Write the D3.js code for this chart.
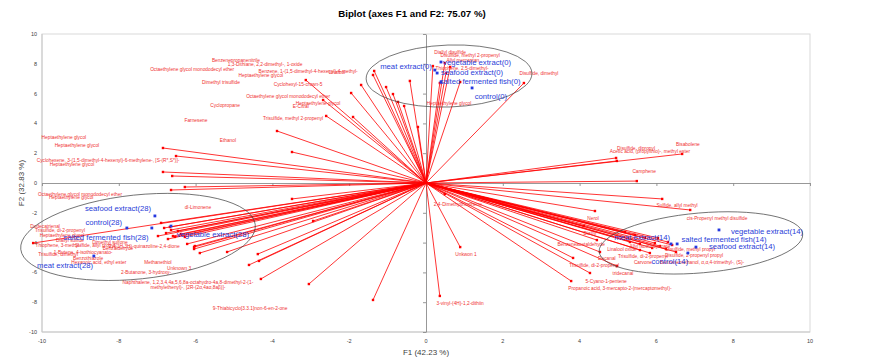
<!DOCTYPE html>
<html>
<head>
<meta charset="utf-8">
<script src="https://cdn.jsdelivr.net/npm/d3@7"></script>
<style>
  body { margin: 0; background: #fff; }
  svg { display: block; font-family: 'Liberation Sans', Arial, sans-serif; }
</style>
</head>
<body>
<script>
// chart texts
var titleText = 'Biplot (axes F1 and F2: 75.07 %)';
var xTitle = 'F1 (42.23 %)';
var yTitle = 'F2 (32.83 %)';
var ticks = [-10, -8, -6, -4, -2, 0, 2, 4, 6, 8, 10];

// variables (red vectors): name, F1, F2, label F1, label F2 (null = label hidden)
var variables = [
  ['Benzene, 1-(1,5-dimethyl-4-hexenyl)-4-methyl-', -3.13, 6.91, -3.07, 7.52],
  ['1,3-Dithiane, 2,2-dimethyl-, 1-oxide', -1.35, 7.52, -4.19, 7.99],
  ['Benzenepropanenitrile', -1.38, 7.25, -4.95, 8.26],
  ['Cyclohexyl-15-crown-5', -1.69, 6.58, -3.33, 6.64],
  ['Heptaethylene glycol', -1.95, 6.04, -4.30, 7.25],
  ['Octaethylene glycol monododecyl ether', -2.68, 5.57, -3.59, 5.84],
  ['Trisulfide, methyl 2-propenyl', -2.60, 4.50, -3.46, 4.36],
  ['Heptaethylene glycol', -1.90, 4.43, -2.81, 5.37],
  ['E-Citral', -0.86, 5.97, -3.26, 5.17],
  ['Farnesene', -3.88, 3.49, -5.99, 4.23],
  ['Ethanol', -3.49, 2.08, -5.16, 2.89],
  ['Linalool', -0.42, 6.85, -2.32, 7.45],
  ['Dimethyl trisulfide', -0.57, 5.17, -5.34, 6.78],
  ['Cyclopropane', -1.04, 6.44, -5.23, 5.23],
  ['Octaethylene glycol monododecyl ether', -0.73, 5.44, -6.09, 7.65],
  ['Heptaethylene glycol', -0.21, 3.76, 0.60, 5.37],
  ['Diallyl disulfide', 0.18, 7.85, 0.63, 8.79],
  ['Disulfide, methyl 2-propenyl', 0.49, 8.05, 1.15, 8.59],
  ['Allyl mercaptan', 0.63, 7.79, 0.96, 8.26],
  ['Thiophene, 2,5-dimethyl-', 0.52, 7.38, 0.94, 7.72],
  ['Diallyl sulfide', 0.36, 6.71, null, null],
  ['Methyl propyl disulfide', 0.89, 6.78, null, null],
  ['Disulfide, dimethyl', 2.55, 6.71, 2.94, 7.38],
  ['Disulfide, dipropyl', 4.95, 1.68, 5.47, 2.35],
  ['Acetic acid, (propylthio)-, methyl ester', 4.97, 1.48, 5.83, 2.15],
  ['Bisabolene', 6.67, 1.95, 6.82, 2.62],
  ['Camphene', 5.49, 0.13, 5.68, 0.81],
  ['Sulfide, allyl methyl', 6.15, -1.07, 6.54, -1.48],
  ['cis-Propenyl methyl disulfide', 6.88, -1.81, 7.58, -2.35],
  ['Nerol', 4.40, -1.88, 4.35, -2.35],
  ['Diallyl', 4.11, -2.89, 4.27, -3.36],
  ['Benzeneacetaldehyde', 4.45, -3.83, 4.04, -4.09],
  ['Decanal', 4.53, -4.63, 4.71, -5.03],
  ['Trisulfide, di-2-propenyl', 3.83, -5.03, 4.38, -5.50],
  ['tridecanal', 4.97, -5.57, 5.13, -6.04],
  ['5-Cyano-1-pentene', 4.27, -6.04, 4.69, -6.58],
  ['Propanoic acid, 3-mercapto-2-(mercaptomethyl)-', 3.78, -6.58, 5.05, -7.05],
  ['Allyl isothiocyanate', 5.70, -3.69, 5.83, -4.23],
  ['Disulfide, methyl propyl', 5.96, -4.03, 6.88, -4.43],
  ['Trisulfide, di-2-propenyl', 6.09, -4.23, 5.65, -4.90],
  ['Disulfide, 2-propenyl propyl', 6.25, -4.43, 6.98, -4.83],
  ['Benzenemethanol, \u03b1,\u03b1,4-trimethyl-, (S)-', 5.57, -4.50, 7.19, -5.30],
  ['Carvone', 5.83, -4.70, 5.65, -5.30],
  ['Linalool oxide', 5.31, -3.96, 5.10, -4.43],
  ['Diallyl trisulfide', 6.41, -4.16, null, null],
  ['Allyl methyl trisulfide', 6.51, -4.63, null, null],
  ['Dipropyl trisulfide', 6.04, -3.69, null, null],
  ['Methyl allyl sulfide', 6.30, -3.96, null, null],
  ['Hexanal', 5.44, -3.49, null, null],
  ['Nonanal', 5.89, -4.36, null, null],
  ['Octanal', 5.18, -3.29, null, null],
  ['Geraniol', 5.57, -4.09, null, null],
  ['2,4-Dimethylthiophene', 0.49, -0.74, 0.83, -1.41],
  ['Unkwon 1', 0.89, -4.30, 1.04, -4.77],
  ['3-vinyl-(4H)-1,2-dithiin', 0.36, -7.58, 0.89, -8.05],
  ['2-vinyl-(4H)-1,3-dithiin', -1.38, -7.85, null, null],
  ['9-Thiabicyclo[3.3.1]non-6-en-2-one', -3.05, -6.78, -4.58, -8.39],
  ['Pentanal', -3.49, -1.07, null, null],
  ['Heptanal', -2.94, -2.55, null, null],
  ['Heptaethylene glycol', -6.85, 2.35, -9.43, 3.09],
  ['Heptaethylene glycol', -6.51, 1.81, -9.09, 2.55],
  ['Cyclohexene, 3-(1,5-dimethyl-4-hexenyl)-6-methylene-, [S-(R*,S*)]-', -6.85, 0.74, -8.28, 1.54],
  ['Heptaethylene glycol', -6.61, 0.47, -9.22, 1.28],
  ['Octaethylene glycol monododecyl ether', -6.28, -0.27, -9.01, -0.74],
  ['Heptaethylene glycol', -6.64, -0.47, -9.24, -0.94],
  ['dl-Limonene', -6.90, -2.68, -5.94, -1.61],
  ['Naphthalene, 1,2,3,4,4a,5,6,8a-octahydro-4a,8-dimethyl-2-(1-\nmethylethenyl)-, [2R-(2\u03b1,4a\u03b1,8a\u03b2)]-', -4.30, -6.44, -6.20, -6.64],
  ['Unknown 3', -4.61, -5.50, -6.43, -5.70],
  ['2-Butanone, 3-hydroxy-', -4.35, -5.23, -7.29, -5.97],
  ['Methanethiol', -4.38, -4.77, -6.98, -5.30],
  ['2,4(1H,3H)-quinazoline-2,4-dione', -5.18, -4.63, -7.34, -4.23],
  ['Benzothiazole', -5.89, -4.70, -8.80, -5.03],
  ['1-Butene, 4-isothiocyanato-', -6.04, -4.30, -8.93, -4.63],
  ['Trisulfide, dimethyl', -6.22, -4.09, -9.58, -4.77],
  ['Hexanoic acid, ethyl ester', -6.59, -3.56, -8.52, -5.30],
  ['Dodecatrienal', -10.23, -4.03, -9.92, -2.89],
  ['Trisulfide, di-2-propenyl', -6.67, -2.95, -9.53, -3.15],
  ['Heptaethylene glycol', -6.64, -3.15, -9.48, -3.49],
  ['Diallyl sulfide', -6.54, -3.62, -9.27, -3.83],
  ['Thiophene, 3-methyl-', -6.28, -3.62, -9.58, -4.16],
  ['Sulfide, allyl propyl', -6.72, -3.76, -8.62, -4.16],
  ['Dimethyl sulfone', -6.02, -4.23, -8.23, -3.96],
  ['Benzaldehyde', -6.04, -4.43, -8.02, -4.36],
  ['Butanal', -6.77, -3.36, null, null],
  ['Methional', -6.46, -3.22, null, null],
  ['Propanal', -6.38, -3.42, null, null],
  ['Acetone', -6.82, -3.02, null, null],
  ['Furfural', -6.98, -3.56, null, null]
];

// observations (blue points): name, F1, F2, label F1, label F2
var observations = [
  ['meat extract(0)', 0.23, 7.58, -0.52, 7.85],
  ['vegetable extract(0)', 0.39, 8.12, 1.33, 8.12],
  ['seafood extract(0)', 0.29, 7.38, 1.20, 7.45],
  ['salted fermented fish(0)', 0.39, 6.78, 1.41, 6.85],
  ['control(0)', 1.20, 6.38, 1.69, 5.84],
  ['seafood extract(28)', -7.06, -2.21, -8.02, -1.68],
  ['control(28)', -7.79, -3.02, -8.39, -2.62],
  ['salted fermented fish(28)', -7.14, -3.02, -8.33, -3.62],
  ['vegetable extract(28)', -6.64, -2.89, -5.55, -3.42],
  ['meat extract(28)', -8.65, -4.90, -9.40, -5.50],
  ['vegetable extract(14)', 7.63, -3.15, 8.88, -3.22],
  ['salted fermented fish(14)', 6.54, -4.09, 7.76, -3.76],
  ['seafood extract(14)', 7.03, -4.30, 8.23, -4.23],
  ['meat extract(14)', 6.38, -4.09, 5.63, -3.62],
  ['control(14)', 6.82, -4.70, 6.35, -5.23]
];

// group ellipses: centre F1, centre F2, half width (F1 units), half height (F2 units), tilt in degrees
var ellipses = [
  [0.60, 7.18, 2.16, 2.08, -2],
  [-7.50, -3.62, 3.07, 2.82, -6],
  [7.16, -4.02, 2.66, 2.01, -5]
];

function draw() {
  var W = 871, H = 361;
  var pl = 42, pr = 810, pt = 34, pb = 332;

  var svg = d3.select('body').append('svg').attr('width', W).attr('height', H);

  var x = d3.scaleLinear().domain([-10, 10]).range([pl, pr]);
  var y = d3.scaleLinear().domain([-10, 10]).range([pb, pt]);

  // frame
  svg.append('rect').attr('x', pl).attr('y', pt).attr('width', pr - pl).attr('height', pb - pt)
    .attr('fill', 'none').attr('stroke', '#d9d9d9').attr('stroke-width', 1);
  svg.append('path').attr('d', 'M' + pl + ',' + pt + 'V' + pb + 'H' + pr)
    .attr('fill', 'none').attr('stroke', '#c8c8c8').attr('stroke-width', 1);

  // zero axes with ticks
  var yAxis = svg.append('g').attr('transform', 'translate(' + x(0) + ',0)')
    .call(d3.axisLeft(y).tickValues(ticks).tickSize(3).tickSizeOuter(0).tickFormat(''));
  var xAxis = svg.append('g').attr('transform', 'translate(0,' + y(0) + ')')
    .call(d3.axisBottom(x).tickValues(ticks).tickSize(3).tickSizeOuter(0).tickFormat(''));
  [xAxis, yAxis].forEach(function (g) {
    g.selectAll('path, line').attr('stroke', '#8c8c8c').attr('stroke-width', 0.9);
  });

  // tick labels on frame
  svg.append('g').selectAll('text').data(ticks).enter().append('text')
    .attr('x', 37).attr('y', d => y(d)).attr('dy', '0.35em').attr('text-anchor', 'end')
    .attr('font-size', 5.5).attr('fill', '#404040').text(d => d);
  svg.append('g').selectAll('text').data(ticks).enter().append('text')
    .attr('x', d => x(d)).attr('y', 343).attr('text-anchor', 'middle')
    .attr('font-size', 5.5).attr('fill', '#404040').text(d => d);

  // vectors
  var vg = svg.append('g');
  vg.selectAll('line').data(variables).enter().append('line')
    .attr('x1', x(0)).attr('y1', y(0))
    .attr('x2', d => x(d[1])).attr('y2', d => y(d[2]))
    .attr('stroke', '#ff0000').attr('stroke-width', 0.8);
  vg.selectAll('rect').data(variables).enter().append('rect')
    .attr('x', d => x(d[1]) - 1.2).attr('y', d => y(d[2]) - 1.2)
    .attr('width', 2.4).attr('height', 2.4).attr('fill', '#ff0000');

  var vl = svg.append('g').attr('font-size', 4.8).attr('fill', '#f03030').attr('text-anchor', 'middle');
  vl.selectAll('text').data(variables.filter(d => d[3] !== null)).enter().append('text')
    .attr('x', d => x(d[3])).attr('y', d => y(d[4]))
    .each(function (d) {
      var t = d3.select(this);
      d[0].split('\n').forEach(function (p, i) {
        t.append('tspan').attr('x', x(d[3])).attr('dy', i === 0 ? '0.35em' : '1.2em').text(p);
      });
    });

  // group ellipses
  svg.append('g').selectAll('ellipse').data(ellipses).enter().append('ellipse')
    .attr('cx', 0).attr('cy', 0)
    .attr('rx', d => x(d[2]) - x(0)).attr('ry', d => y(0) - y(d[3]))
    .attr('transform', d => 'translate(' + x(d[0]) + ',' + y(d[1]) + ') rotate(' + d[4] + ')')
    .attr('fill', 'none').attr('stroke', '#404040').attr('stroke-width', 0.7);

  // observations
  var og = svg.append('g');
  og.selectAll('rect').data(observations).enter().append('rect')
    .attr('x', d => x(d[1]) - 1.4).attr('y', d => y(d[2]) - 1.4)
    .attr('width', 2.8).attr('height', 2.8).attr('fill', '#2438e0');
  og.selectAll('text').data(observations).enter().append('text')
    .attr('x', d => x(d[3])).attr('y', d => y(d[4])).attr('dy', '0.35em')
    .attr('text-anchor', 'middle').attr('font-size', 7.7).attr('fill', '#2a40d8')
    .text(d => d[0]);

  // titles
  svg.append('text').attr('x', 412).attr('y', 17).attr('text-anchor', 'middle')
    .attr('font-size', 9.7).attr('font-weight', 'bold').attr('fill', '#000').text(titleText);
  svg.append('text').attr('x', x(0)).attr('y', 355).attr('text-anchor', 'middle')
    .attr('font-size', 8).attr('fill', '#404040').text(xTitle);
  svg.append('text').attr('transform', 'translate(24,' + y(0) + ') rotate(-90)').attr('text-anchor', 'middle')
    .attr('font-size', 8).attr('fill', '#404040').text(yTitle);
}

draw();
</script>
</body>
</html>
